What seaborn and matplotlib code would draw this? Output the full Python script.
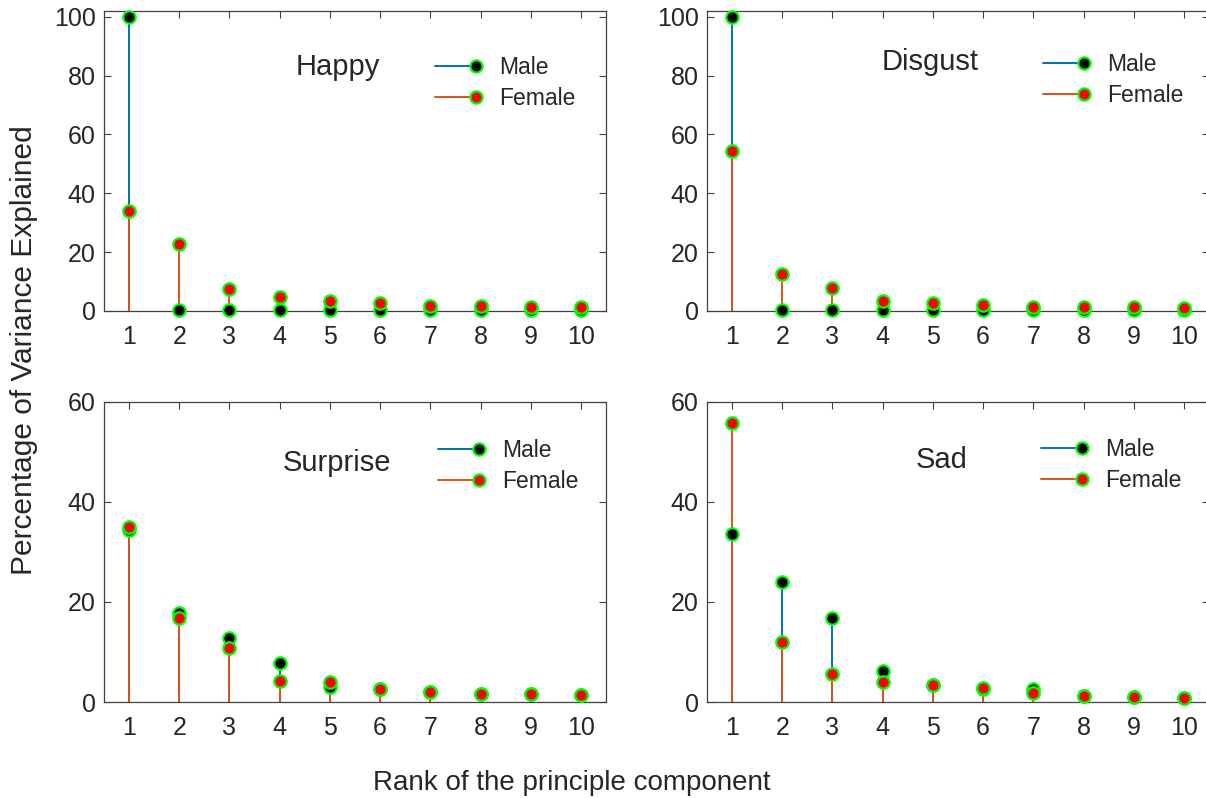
import numpy as np
import pandas as pd
import matplotlib
matplotlib.use('Agg')
import matplotlib.pyplot as plt
import seaborn as sns
from matplotlib.lines import Line2D
from matplotlib.legend_handler import HandlerLine2D

ranks = [1, 2, 3, 4, 5, 6, 7, 8, 9, 10]
emotions = ['Happy', 'Disgust', 'Surprise', 'Sad']

happy_male = [100, 0.3, 0.3, 0.3, 0.3, 0.3, 0.2, 0.2, 0.2, 0.2]
happy_female = [34.1, 22.6, 7.5, 4.9, 3.5, 2.6, 1.7, 1.7, 1.2, 1.2]
disgust_male = [100, 0.3, 0.3, 0.3, 0.3, 0.3, 0.2, 0.2, 0.2, 0.2]
disgust_female = [54.5, 12.7, 7.8, 3.3, 2.6, 2.0, 1.4, 1.4, 1.4, 0.9]
surprise_male = [34.3, 17.8, 12.8, 7.8, 2.9, 2.5, 2.0, 1.5, 1.5, 1.3]
surprise_female = [35.0, 16.8, 10.7, 4.1, 3.9, 2.5, 1.9, 1.5, 1.5, 1.3]
sad_male = [33.5, 23.9, 16.7, 6.1, 3.3, 2.5, 2.5, 1.1, 1.0, 0.8]
sad_female = [55.7, 12.0, 5.6, 3.9, 3.3, 2.7, 1.7, 1.1, 1.0, 0.8]

male = [happy_male, disgust_male, surprise_male, sad_male]
female = [happy_female, disgust_female, surprise_female, sad_female]
ymax = [102, 102, 60, 60]
yticks = [[0, 20, 40, 60, 80, 100], [0, 20, 40, 60, 80, 100], [0, 20, 40, 60], [0, 20, 40, 60]]

sns.set_theme(style='white')
plt.rcParams['font.family'] = ['Liberation Sans', 'DejaVu Sans']

blue = '#0072BD'
orange = '#D95319'
green = '#00FF00'
axcol = '#404040'
txtcol = '#262626'


class StemHandler(HandlerLine2D):
    # MATLAB stem legend: marker sits on the right end of the line
    def create_artists(self, legend, orig_handle, xdescent, ydescent,
                       width, height, fontsize, trans):
        arts = super().create_artists(legend, orig_handle, xdescent, ydescent,
                                      width, height, fontsize, trans)
        arts[0].set_markevery([-1])
        return arts


fig = plt.figure(figsize=(12.06, 7.98), dpi=100)
positions = [[0.0862, 0.6103, 0.4163, 0.376],
             [0.5862, 0.6103, 0.4163, 0.376],
             [0.0862, 0.1203, 0.4163, 0.376],
             [0.5862, 0.1203, 0.4163, 0.376]]
title_pos = [(0.466, 0.813), (0.444, 0.83), (0.464, 0.797), (0.468, 0.807)]
leg_pos = [(0.659, 0.85), (0.669, 0.86), (0.665, 0.875), (0.665, 0.88)]

for i, name in enumerate(emotions):
    ax = fig.add_axes(positions[i])
    df = pd.DataFrame({'rank': ranks, 'male': male[i], 'female': female[i]})

    ax.vlines(df['rank'], 0, df['male'], color=blue, lw=1.4, zorder=2)
    ax.vlines(df['rank'], 0, df['female'], color=orange, lw=1.4, zorder=3)
    sns.scatterplot(x='rank', y='male', data=df, ax=ax, color='black', s=80,
                    edgecolor=green, linewidth=1.6, zorder=4, clip_on=False, legend=False)
    sns.scatterplot(x='rank', y='female', data=df, ax=ax, color='red', s=80,
                    edgecolor=green, linewidth=1.6, zorder=5, clip_on=False, legend=False)

    ax.set_xlim(0.5, 10.5)
    ax.set_ylim(0, ymax[i])
    ax.set_xticks(ranks)
    ax.set_yticks(yticks[i])
    ax.set_xlabel('')
    ax.set_ylabel('')
    for sp in ax.spines.values():
        sp.set_visible(True)
        sp.set_color(axcol)
        sp.set_linewidth(0.9)
    ax.tick_params(direction='in', length=5, width=0.8, color=axcol,
                   labelsize=18, labelcolor=txtcol, top=True, right=True,
                   left=True, bottom=True)
    ax.tick_params(axis='x', pad=10)
    ax.tick_params(axis='y', pad=6)

    ax.text(title_pos[i][0], title_pos[i][1], name, transform=ax.transAxes,
            ha='center', va='center', fontsize=21, color=txtcol)

    h_m = Line2D([], [], color=blue, lw=1.4, marker='o', markersize=8.8,
                 markerfacecolor='black', markeredgecolor=green, markeredgewidth=1.6)
    h_f = Line2D([], [], color=orange, lw=1.4, marker='o', markersize=8.8,
                 markerfacecolor='red', markeredgecolor=green, markeredgewidth=1.6)
    ax.legend([h_m, h_f], ['Male', 'Female'], loc='upper left',
              bbox_to_anchor=leg_pos[i], frameon=False, fontsize=16.5,
              borderpad=0, borderaxespad=0, handlelength=1.8,
              handletextpad=1.0, labelspacing=0.35, numpoints=1,
              handler_map={Line2D: StemHandler()})

fig.text(0.02, 0.561, 'Percentage of Variance Explained', rotation=90,
         ha='center', va='center', fontsize=21.5, color=txtcol)
fig.text(0.474, 0.019, 'Rank of the principle component',
         ha='center', va='center', fontsize=20, color=txtcol)

fig.savefig('out.png', dpi=100)
